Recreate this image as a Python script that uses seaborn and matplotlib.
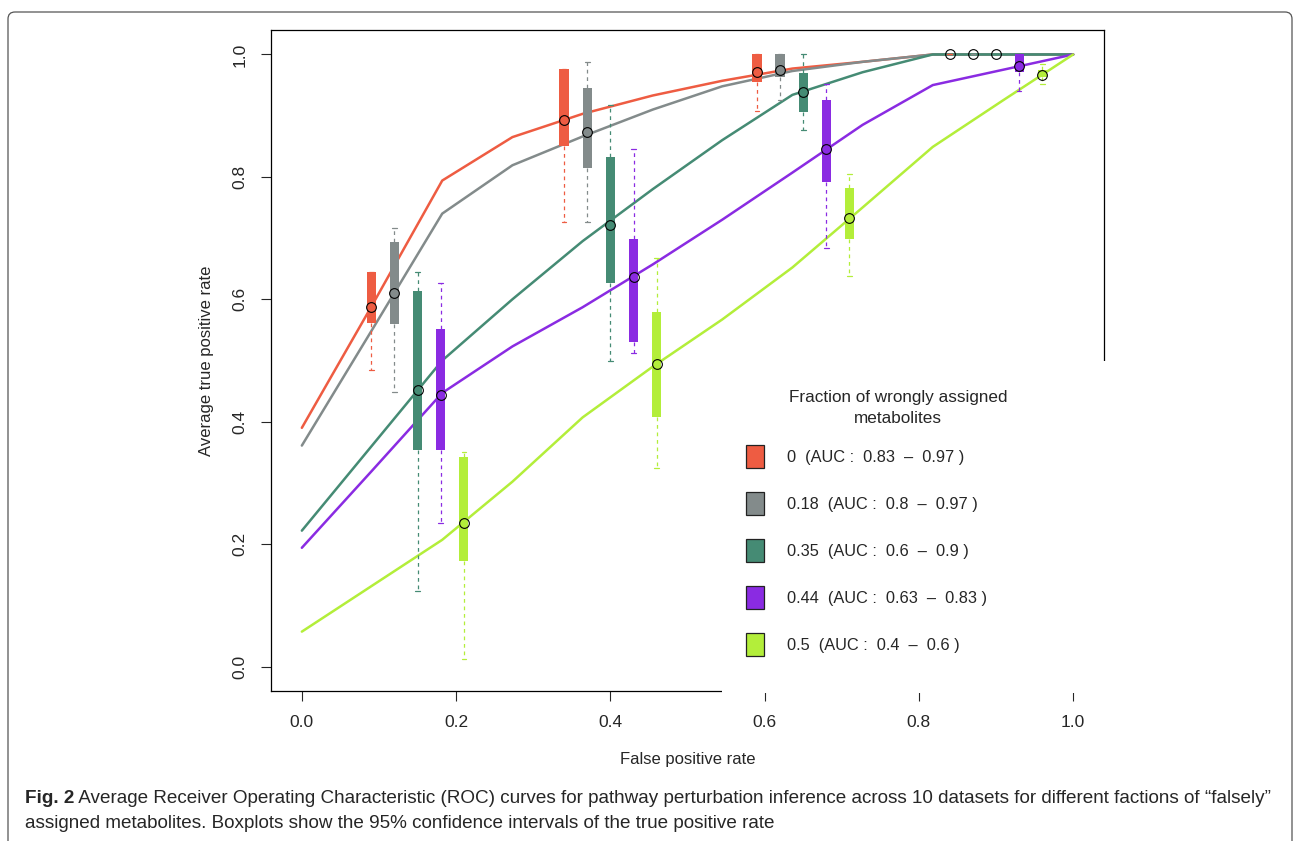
import numpy as np
import pandas as pd
import matplotlib
matplotlib.use("Agg")
import matplotlib.pyplot as plt
import seaborn as sns
from matplotlib import font_manager
from matplotlib.patches import Rectangle, Patch, FancyBboxPatch

# --- data ---
fractions = ['0', '0.18', '0.35', '0.44', '0.5']
colors = ['#EE5C42', '#838B8B', '#458B74', '#8A2BE2', '#B3EE3A']
auc_lo = ['0.83', '0.8', '0.6', '0.63', '0.4']
auc_hi = ['0.97', '0.97', '0.9', '0.83', '0.6']

fpr = [0, 0.091, 0.182, 0.273, 0.364, 0.455, 0.545, 0.636, 0.727, 0.818, 0.909, 1.0]
tpr_0 = [0.390, 0.590, 0.794, 0.865, 0.903, 0.933, 0.957, 0.977, 0.988, 1.0, 1.0, 1.0]
tpr_18 = [0.361, 0.550, 0.740, 0.819, 0.866, 0.910, 0.948, 0.973, 0.988, 1.0, 1.0, 1.0]
tpr_35 = [0.222, 0.361, 0.500, 0.600, 0.695, 0.780, 0.860, 0.934, 0.971, 1.0, 1.0, 1.0]
tpr_44 = [0.194, 0.320, 0.447, 0.523, 0.587, 0.657, 0.730, 0.807, 0.885, 0.950, 0.975, 1.0]
tpr_50 = [0.057, 0.132, 0.207, 0.302, 0.407, 0.490, 0.567, 0.652, 0.750, 0.849, 0.925, 1.0]
tprs = [tpr_0, tpr_18, tpr_35, tpr_44, tpr_50]

# boxplot positions (one row per fraction) and 95% CI stats
box_pos = [[0.09, 0.34, 0.59, 0.84],
           [0.12, 0.37, 0.62, 0.87],
           [0.15, 0.40, 0.65, 0.90],
           [0.18, 0.43, 0.68, 0.93],
           [0.21, 0.46, 0.71, 0.96]]
# (whisker low, q1, mean, q3, whisker high)
box_stats = [
    [(0.484, 0.562, 0.588, 0.644, 0.644), (0.726, 0.850, 0.893, 0.976, 0.976),
     (0.908, 0.955, 0.971, 1.0, 1.0), (1.0, 1.0, 1.0, 1.0, 1.0)],
    [(0.449, 0.559, 0.611, 0.693, 0.716), (0.726, 0.814, 0.873, 0.946, 0.988),
     (0.925, 0.963, 0.975, 1.0, 1.0), (1.0, 1.0, 1.0, 1.0, 1.0)],
    [(0.124, 0.353, 0.451, 0.614, 0.645), (0.500, 0.626, 0.722, 0.833, 0.918),
     (0.876, 0.906, 0.938, 0.970, 1.0), (1.0, 1.0, 1.0, 1.0, 1.0)],
    [(0.234, 0.353, 0.444, 0.551, 0.626), (0.513, 0.531, 0.636, 0.698, 0.846),
     (0.683, 0.791, 0.845, 0.925, 0.951), (0.941, 0.971, 0.981, 1.0, 1.0)],
    [(0.013, 0.173, 0.234, 0.343, 0.350), (0.325, 0.408, 0.495, 0.579, 0.667),
     (0.638, 0.698, 0.733, 0.782, 0.804), (0.951, 0.963, 0.967, 0.975, 0.985)],
]

caption_bold = 'Fig. 2'
caption_1 = (' Average Receiver Operating Characteristic (ROC) curves for pathway perturbation '
             'inference across 10 datasets for different factions of \u201cfalsely\u201d')
caption_2 = 'assigned metabolites. Boxplots show the 95% confidence intervals of the true positive rate'

# --- styling ---
sns.set_style('ticks')
plt.rcParams['font.family'] = ['Liberation Sans', 'DejaVu Sans']
names = {f.name for f in font_manager.fontManager.ttflist}
cap_font = 'Liberation Sans Narrow' if 'Liberation Sans Narrow' in names else 'Liberation Sans'

df = pd.DataFrame({
    'fpr': fpr * len(fractions),
    'tpr': np.concatenate(tprs),
    'fraction': np.repeat(fractions, len(fpr)),
})

fig = plt.figure(figsize=(12.94, 8.41), dpi=100)
ax = fig.add_axes([271 / 1294, 1 - 691 / 841, 833 / 1294, 661 / 841])

sns.lineplot(data=df, x='fpr', y='tpr', hue='fraction', palette=dict(zip(fractions, colors)),
             estimator=None, sort=False, linewidth=1.8, legend=False, ax=ax, zorder=1)

for i, col in enumerate(colors):
    stats = [dict(whislo=s[0], q1=s[1], med=s[2], mean=s[2], q3=s[3], whishi=s[4])
             for s in box_stats[i]]
    ax.bxp(stats, positions=box_pos[i], widths=0.012, capwidths=0.006,
           patch_artist=True, showfliers=False, manage_ticks=False, zorder=2,
           boxprops=dict(facecolor=col, edgecolor=col, linewidth=0),
           whiskerprops=dict(color=col, linewidth=0.9, linestyle=(0, (3, 3))),
           capprops=dict(color=col, linewidth=0.9),
           medianprops=dict(linewidth=0))
    ax.plot(box_pos[i], [s[2] for s in box_stats[i]], 'o', ms=7, mfc='none',
            mec='black', mew=0.8, zorder=3)

ax.set_xlim(-0.04, 1.04)
ax.set_ylim(-0.04, 1.04)
ticks = [0, 0.2, 0.4, 0.6, 0.8, 1.0]
ax.set_xticks(ticks)
ax.set_yticks(ticks)
ax.set_xticklabels([f'{t:.1f}' for t in ticks])
ax.set_yticklabels([f'{t:.1f}' for t in ticks])
ax.tick_params(axis='both', direction='out', length=7, width=0.8, labelsize=12.5, pad=10)
ax.tick_params(axis='y', labelrotation=90)
for lab in ax.get_yticklabels():
    lab.set_va('center')
for sp in ax.spines.values():
    sp.set_visible(True)
    sp.set_linewidth(0.9)
    sp.set_color('black')
ax.set_xlabel('False positive rate', fontsize=12, labelpad=16)
ax.set_ylabel('Average true positive rate', fontsize=12, labelpad=13)

# legend area (white panel over the box, as in the original)
fig.patches.append(Rectangle((722 / 1294, 1 - 693 / 841), 384 / 1294, 332 / 841,
                             transform=fig.transFigure, facecolor='white',
                             edgecolor='none', zorder=1))
fig.text(898 / 1294, 1 - 408 / 841, 'Fraction of wrongly assigned\nmetabolites',
         ha='center', va='center', multialignment='center', fontsize=12.3,
         linespacing=1.45, zorder=6)
handles = [Patch(facecolor=c, edgecolor='#222222', linewidth=0.9) for c in colors]
labels = [f'{f}  (AUC :  {lo}  \u2013  {hi} )' for f, lo, hi in zip(fractions, auc_lo, auc_hi)]
fig.legend(handles, labels, loc='upper left', bbox_to_anchor=(746 / 1294, 1 - 445 / 841),
           frameon=False, fontsize=11.8, handlelength=1.1, handleheight=1.78,
           handletextpad=1.4, labelspacing=1.47, borderpad=0, borderaxespad=0)

# journal frame and caption
fig.patches.append(FancyBboxPatch((0.08, -0.3), 12.84, 8.59,
                                  boxstyle='round,pad=0,rounding_size=0.07',
                                  transform=fig.dpi_scale_trans, fill=False,
                                  edgecolor='#555555', linewidth=0.9, zorder=0))
cap_size = 10.0
t0 = fig.text(25 / 1294, 1 - 803 / 841, caption_bold, fontsize=cap_size,
              fontweight='bold', family=cap_font)
t1 = ax.annotate(caption_1, xy=(1, 0), xycoords=t0, va='bottom', ha='left',
                 fontsize=cap_size, family=cap_font, annotation_clip=False)
t2 = fig.text(25 / 1294, 1 - 828 / 841, caption_2, fontsize=cap_size, family=cap_font)

# scale the caption so the first line spans the width of the frame
fig.canvas.draw()
r = fig.canvas.get_renderer()
right = t1.get_window_extent(r).x1
scale = (1281 - 25) / (right - 25)
for t in (t0, t1, t2):
    t.set_fontsize(cap_size * scale)

fig.savefig('out.png', dpi=100)
